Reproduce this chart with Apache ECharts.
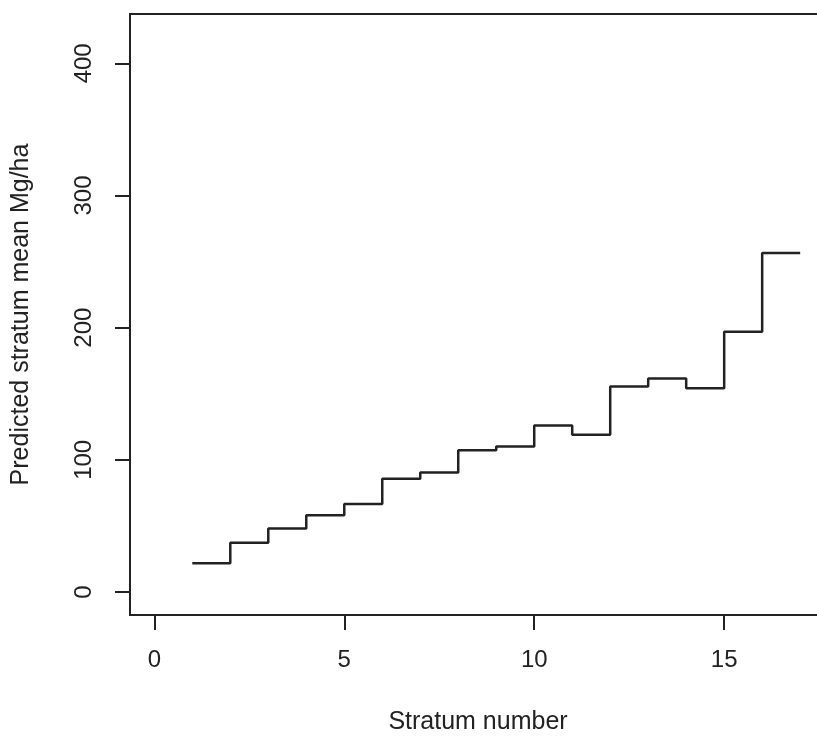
<!DOCTYPE html>
<html>
<head>
<meta charset="utf-8">
<script src="https://cdn.jsdelivr.net/npm/echarts@6/dist/echarts.min.js"></script>
<style>
html,body{margin:0;padding:0;background:#fff;}
#chart{width:817px;height:738px;}
</style>
</head>
<body>
<div id="chart"></div>
<script>
var strata = [1,2,3,4,5,6,7,8,9,10,11,12,13,14,15,16,17];
var means = [21.7,37.3,48.1,58.0,66.5,85.6,90.5,107.3,110.1,126.0,118.9,155.4,161.5,154.2,196.9,256.4,256.4];
var xTicks = [0,5,10,15];
var yTicks = [0,100,200,300,400];
var xTitle = 'Stratum number';
var yTitle = 'Predicted stratum mean Mg/ha';

var FONT = '"Liberation Sans", Arial, sans-serif';
var INK = '#222222';
var chart = echarts.init(document.getElementById('chart'));
chart.setOption({
  animation: false,
  backgroundColor: '#ffffff',
  grid: {left: 130, top: 14, width: 696, height: 601, show: true, borderColor: INK, borderWidth: 2,
         backgroundColor: 'transparent', containLabel: false, outerBoundsMode: 'none'},
  xAxis: {
    type: 'value', min: -0.64, max: 17.68,
    name: xTitle, nameLocation: 'middle', nameGap: 95,
    nameTextStyle: {fontFamily: FONT, fontSize: 25, color: INK},
    axisLine: {show: false, onZero: false},
    splitLine: {show: false},
    axisTick: {show: true, inside: false, length: 15, lineStyle: {color: INK, width: 2}, customValues: xTicks},
    axisLabel: {show: true, margin: 33, fontFamily: FONT, fontSize: 24, color: INK, customValues: xTicks}
  },
  yAxis: {
    type: 'value', min: -17.4, max: 437.3,
    name: yTitle, nameLocation: 'middle', nameGap: 96,
    nameTextStyle: {fontFamily: FONT, fontSize: 25, color: INK},
    axisLine: {show: false, onZero: false},
    splitLine: {show: false},
    axisTick: {show: true, inside: false, length: 15, lineStyle: {color: INK, width: 2}, customValues: yTicks},
    axisLabel: {show: true, rotate: 90, margin: 34, fontFamily: FONT, fontSize: 24, color: INK, customValues: yTicks}
  },
  series: [{
    type: 'line',
    step: 'end',
    data: strata.map(function (s, i) { return [s, means[i]]; }),
    showSymbol: false,
    lineStyle: {color: INK, width: 2.5},
    clip: false
  }]
});
</script>
</body>
</html>
